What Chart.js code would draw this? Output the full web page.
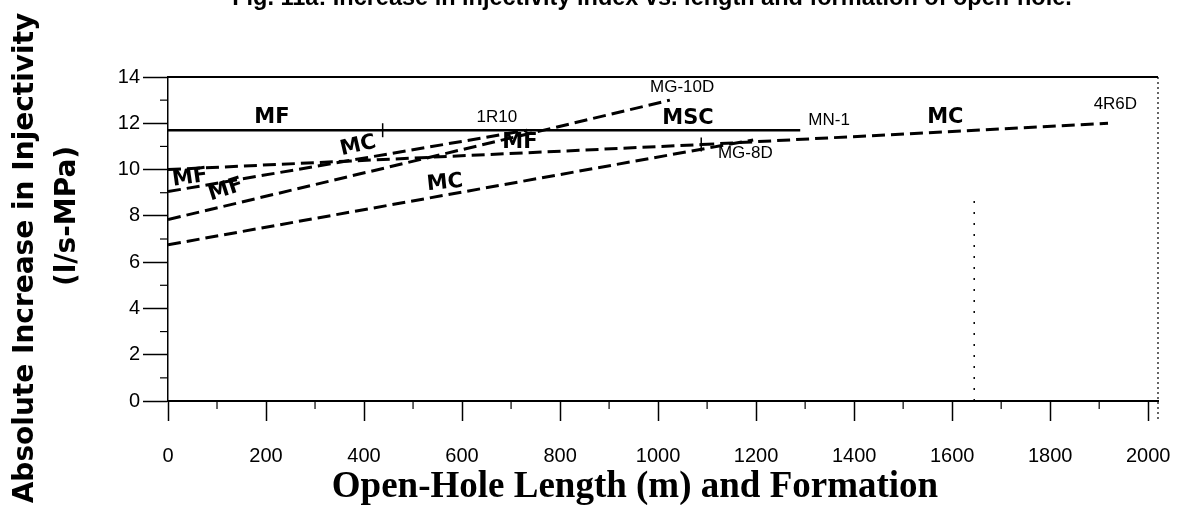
<!DOCTYPE html>
<html>
<head>
<meta charset="utf-8">
<script src="https://cdn.jsdelivr.net/npm/chart.js@4.4.1/dist/chart.umd.min.js"></script>
<style>
  html, body { margin: 0; padding: 0; background: #fff; overflow: hidden; }
  #wrap { position: absolute; left: 0; top: -12px; width: 1180px; height: 517px; }
</style>
</head>
<body>
<div id="wrap"><canvas id="chart"></canvas></div>
<script>
// open-hole length (m) vs absolute increase in injectivity (l/s-MPa)
const mn1Length = [0, 1290];
const mn1Injectivity = [11.7, 11.7];
const r10Length = [0, 733];
const r10Injectivity = [9.05, 11.7];
const mg10dLength = [0, 1024];
const mg10dInjectivity = [7.84, 13.0];
const mg8dLength = [0, 1088];
const mg8dInjectivity = [10.0, 11.08];
const mcLength = [0, 1194];
const mcInjectivity = [6.75, 11.28];
const r6dLength = [1088, 1918];
const r6dInjectivity = [11.08, 12.0];
const markLength = [438, 1088];
const markInjectivity = [11.7, 11.08];
const dotLength = [1645, 1645];
const dotInjectivity = [0, 9.0];

const xTickLabels = [0, 200, 400, 600, 800, 1000, 1200, 1400, 1600, 1800, 2000];
const yTickLabels = [0, 2, 4, 6, 8, 10, 12, 14];

// well / formation notes along the lines
const noteText = ['MF', '1R10', 'MG-10D', 'MSC', 'MN-1', 'MC', '4R6D', 'MG-8D', 'MC', 'MF', 'MF', 'MF', 'MC'];
const noteLength = [212, 671, 1049, 1061, 1349, 1586, 1933, 1178, 388, 718, 45, 118, 565];
const noteInjectivity = [12.23, 12.27, 13.57, 12.19, 12.14, 12.23, 12.83, 10.72, 11.02, 11.15, 9.64, 9.12, 9.42];
const noteBold = [true, false, false, true, false, true, false, false, true, true, true, true, true];
const noteAngle = [0, 0, 0, 0, 0, 0, 0, 0, -13, 0, -8, -18, -6];

const chartTitle = 'Fig. 11a: Increase in injectivity index vs. length and formation of open-hole.';
const xTitle = 'Open-Hole Length (m) and Formation';
const yTitle = ['Absolute Increase in Injectivity', '(l/s-MPa)'];

const pts = (xs, ys) => xs.map((x, i) => ({ x: x, y: ys[i] }));

const dashed = (xs, ys) => ({
  data: pts(xs, ys),
  borderColor: '#000',
  borderWidth: 3,
  borderDash: [13, 6],
  pointRadius: 0
});

const framePlugin = {
  id: 'frame',
  afterDraw(chart) {
    const ctx = chart.ctx;
    const a = chart.chartArea;
    const x = chart.scales.x;
    const y = chart.scales.y;
    ctx.save();
    ctx.strokeStyle = '#000';
    // top border
    ctx.lineWidth = 2;
    ctx.beginPath();
    ctx.moveTo(a.left, a.top);
    ctx.lineTo(a.right, a.top);
    ctx.stroke();
    // dotted right border
    ctx.lineWidth = 1.2;
    ctx.setLineDash([2, 3]);
    ctx.beginPath();
    ctx.moveTo(a.right, a.top);
    ctx.lineTo(a.right, a.bottom + 20);
    ctx.stroke();
    ctx.setLineDash([]);
    // minor ticks
    ctx.lineWidth = 1.2;
    for (let v = 100; v < 2000; v += 200) {
      const px = x.getPixelForValue(v);
      ctx.beginPath();
      ctx.moveTo(px, a.bottom);
      ctx.lineTo(px, a.bottom + 8);
      ctx.stroke();
    }
    for (let v = 1; v < 14; v += 2) {
      const py = y.getPixelForValue(v);
      ctx.beginPath();
      ctx.moveTo(a.left - 8, py);
      ctx.lineTo(a.left, py);
      ctx.stroke();
    }
    // notes on the lines
    ctx.fillStyle = '#000';
    ctx.textAlign = 'center';
    ctx.textBaseline = 'middle';
    noteText.forEach((t, i) => {
      ctx.save();
      ctx.translate(x.getPixelForValue(noteLength[i]), y.getPixelForValue(noteInjectivity[i]));
      ctx.rotate(noteAngle[i] * Math.PI / 180);
      ctx.font = noteBold[i] ? 'bold 21px "DejaVu Sans"' : '17px "Liberation Sans"';
      ctx.fillText(t, 0, 0);
      ctx.restore();
    });
    ctx.textBaseline = 'alphabetic';
    // chart title, partly above the page
    ctx.font = 'bold 23.5px "Liberation Sans"';
    ctx.fillText(chartTitle, 652, 17);
    // x axis title
    ctx.font = 'bold 37px "Liberation Serif"';
    ctx.fillText(xTitle, 635, 509);
    // y axis title, two lines
    ctx.font = 'bold 28px "DejaVu Sans"';
    ctx.save();
    ctx.translate(33, 270);
    ctx.rotate(-Math.PI / 2);
    ctx.fillText(yTitle[0], 0, 0);
    ctx.restore();
    ctx.save();
    ctx.translate(75, 228);
    ctx.rotate(-Math.PI / 2);
    ctx.fillText(yTitle[1], 0, 0);
    ctx.restore();
    ctx.restore();
  }
};

new Chart(document.getElementById('chart'), {
  type: 'line',
  data: {
    datasets: [
      { data: pts(mn1Length, mn1Injectivity), borderColor: '#000', borderWidth: 2.6, pointRadius: 0 },
      dashed(r10Length, r10Injectivity),
      dashed(mg10dLength, mg10dInjectivity),
      dashed(mg8dLength, mg8dInjectivity),
      dashed(mcLength, mcInjectivity),
      dashed(r6dLength, r6dInjectivity),
      {
        data: pts(markLength, markInjectivity),
        showLine: false,
        pointStyle: 'line',
        rotation: 90,
        pointRadius: 7,
        borderColor: '#000',
        borderWidth: 1.5
      },
      {
        data: pts(dotLength, dotInjectivity),
        borderColor: '#000',
        borderWidth: 1.5,
        borderDash: [2, 9],
        pointRadius: 0
      }
    ]
  },
  options: {
    responsive: true,
    maintainAspectRatio: false,
    animation: false,
    layout: { padding: { left: 0, right: 22, top: 89, bottom: 0 } },
    plugins: {
      legend: { display: false },
      tooltip: { enabled: false },
      title: { display: false }
    },
    scales: {
      x: {
        type: 'linear',
        min: 0,
        max: 2020,
        afterBuildTicks: s => {
          const t = [];
          for (let v = 0; v <= 2000; v += 100) t.push({ value: v });
          s.ticks = t;
        },
        afterFit: s => {
          s.height = 104;
          s.paddingLeft = 0;
          s.paddingRight = 0;
        },
        ticks: {
          autoSkip: false,
          maxRotation: 0,
          padding: 23,
          color: '#000',
          font: { family: 'Liberation Sans', size: 20 },
          callback: v => xTickLabels.includes(v) ? String(v) : ''
        },
        grid: {
          drawOnChartArea: false,
          tickLength: 20,
          tickWidth: 1.5,
          tickColor: c => (c.tick && c.tick.value % 200 === 0) ? '#000' : 'rgba(0,0,0,0)'
        },
        border: { display: true, color: '#000', width: 2 }
      },
      y: {
        min: 0,
        max: 14,
        afterFit: s => {
          s.width = 168;
          s.paddingTop = 0;
          s.paddingBottom = 0;
        },
        ticks: {
          stepSize: 1,
          autoSkip: false,
          padding: 3,
          color: '#000',
          font: { family: 'Liberation Sans', size: 20 },
          callback: v => yTickLabels.includes(v) ? String(v) : ''
        },
        grid: {
          drawOnChartArea: false,
          tickLength: 25,
          tickWidth: 1.5,
          tickColor: c => (c.tick && c.tick.value % 2 === 0) ? '#000' : 'rgba(0,0,0,0)'
        },
        border: { display: true, color: '#000', width: 1.5, dash: [8, 3] }
      }
    }
  },
  plugins: [framePlugin]
});
</script>
</body>
</html>
